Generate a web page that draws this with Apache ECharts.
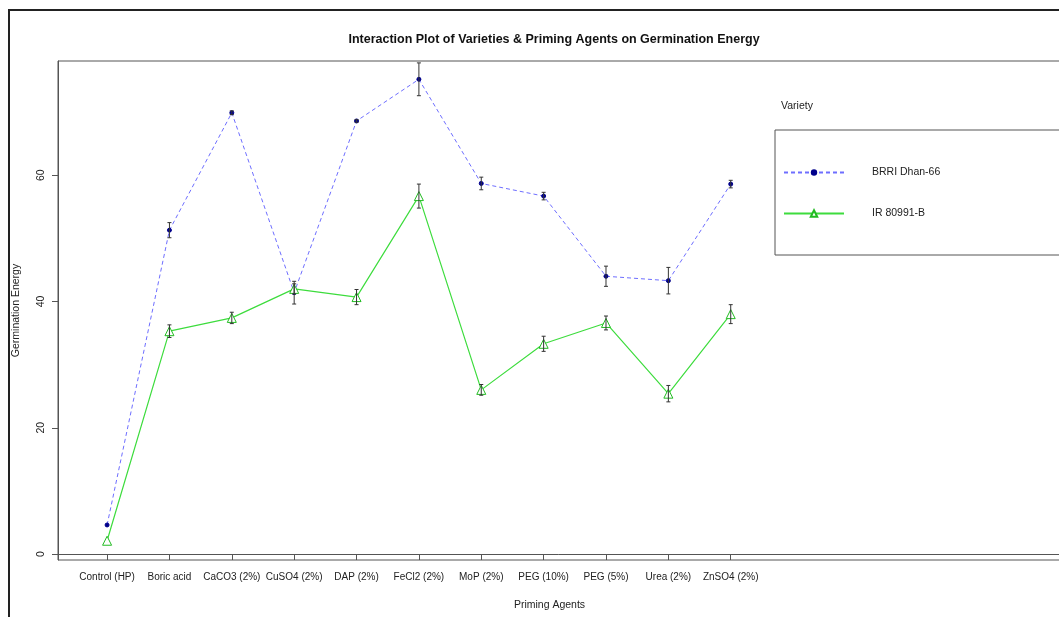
<!DOCTYPE html>
<html>
<head>
<meta charset="utf-8">
<script src="https://cdn.jsdelivr.net/npm/echarts@6/dist/echarts.min.js"></script>
<style>html,body{margin:0;padding:0;background:#fff;}#c{width:1059px;height:617px;}</style>
</head>
<body>
<div id="c"></div>
<script>
const categories = ['Control (HP)','Boric acid','CaCO3 (2%)','CuSO4 (2%)','DAP (2%)','FeCl2 (2%)','MoP (2%)','PEG (10%)','PEG (5%)','Urea (2%)','ZnSO4 (2%)'];
const brriMean = [4.6, 51.3, 69.9, 41.4, 68.6, 75.2, 58.7, 56.7, 44.0, 43.3, 58.6];
const brriErr  = [0.0, 1.2, 0.3, 1.8, 0.2, 2.6, 1.0, 0.6, 1.6, 2.1, 0.6];
const irMean   = [2.1, 35.3, 37.4, 42.0, 40.7, 56.7, 26.0, 33.3, 36.6, 25.4, 38.0];
const irErr    = [0.0, 1.0, 0.9, 0.8, 1.2, 1.9, 0.85, 1.2, 1.1, 1.3, 1.5];
const yTicks = [0, 20, 40, 60];
const seriesNames = ['BRRI Dhan-66', 'IR 80991-B'];

const FONT = "'Liberation Sans', Arial, sans-serif";
const xPos = categories.map((c, i) => i + 1);

function pts(arr) { return arr.map((v, i) => [xPos[i], v]); }
function errs(m, e) { return m.map((v, i) => [xPos[i], v - e[i], v + e[i]]); }

function renderErr(params, api) {
  const x = api.value(0);
  const lo = api.coord([x, api.value(1)]);
  const hi = api.coord([x, api.value(2)]);
  if (Math.abs(lo[1] - hi[1]) < 1) return null;
  const w = 2;
  const st = { stroke: '#333', lineWidth: 1 };
  return {
    type: 'group',
    children: [
      { type: 'line', shape: { x1: lo[0], y1: lo[1], x2: hi[0], y2: hi[1] }, style: st },
      { type: 'line', shape: { x1: lo[0] - w, y1: lo[1], x2: lo[0] + w, y2: lo[1] }, style: st },
      { type: 'line', shape: { x1: hi[0] - w, y1: hi[1], x2: hi[0] + w, y2: hi[1] }, style: st }
    ]
  };
}

const chart = echarts.init(document.getElementById('c'), null, { renderer: 'canvas' });
chart.setOption({
  animation: false,
  backgroundColor: '#fff',
  title: {
    text: 'Interaction Plot of Varieties & Priming Agents on Germination Energy',
    left: 549, top: 28, textAlign: 'center',
    textStyle: { fontFamily: FONT, fontSize: 12.5, fontWeight: 'bold', color: '#111' }
  },
  grid: { left: 58, top: 61, right: -6, bottom: 57, outerBoundsMode: 'none', containLabel: false,
    show: true, borderColor: '#555', borderWidth: 1, backgroundColor: 'transparent' },
  xAxis: {
    type: 'value', min: 0.213, max: 16.36,
    name: 'Priming Agents', nameLocation: 'middle', nameGap: 40,
    nameTextStyle: { fontFamily: FONT, fontSize: 10.5, color: '#222', padding: [0, 24, 0, 0] },
    axisLine: { show: true, lineStyle: { color: '#555' } },
    splitLine: { show: false },
    axisTick: { show: true, customValues: xPos, length: 6, inside: false, lineStyle: { color: '#555' } },
    axisLabel: { customValues: xPos, margin: 12, fontFamily: FONT, fontSize: 10, color: '#222',
      formatter: v => categories[Math.round(v) - 1] || '' }
  },
  yAxis: {
    type: 'value', min: -0.95, max: 78.1,
    name: 'Germination Energy', nameLocation: 'middle', nameGap: 36, nameRotate: 90,
    nameTextStyle: { fontFamily: FONT, fontSize: 10.5, color: '#222' },
    axisLine: { show: true, lineStyle: { color: '#555' } },
    splitLine: { show: false },
    axisTick: { show: true, customValues: yTicks, length: 6, lineStyle: { color: '#555' } },
    axisLabel: { customValues: yTicks, rotate: 90, margin: 11, fontFamily: FONT, fontSize: 10.5, color: '#222' }
  },
  legend: {
    data: seriesNames, orient: 'vertical', left: 778, top: 162,
    itemWidth: 60, itemHeight: 8, itemGap: 30,
    textStyle: { fontFamily: FONT, fontSize: 10.5, color: '#222', padding: [0, 0, 0, 23] }
  },
  graphic: [
    { type: 'rect', shape: { x: 9, y: 10, width: 1080, height: 640 }, style: { fill: 'none', stroke: '#222', lineWidth: 2 }, silent: true, z: 100 },
    { type: 'rect', shape: { x: 775, y: 130, width: 300, height: 125 }, style: { fill: 'none', stroke: '#555', lineWidth: 1 }, silent: true },
    { type: 'text', left: 781, top: 101, style: { text: 'Variety', fontFamily: FONT, fontSize: 10.5, fill: '#222' } }
  ],
  series: [
    {
      name: seriesNames[0], type: 'line', data: pts(brriMean),
      symbol: 'circle', symbolSize: 4,
      lineStyle: { color: '#6e6eff', width: 1, type: [4, 3] },
      itemStyle: { color: '#00008b', borderColor: '#00008b' }
    },
    {
      name: seriesNames[1], type: 'line', data: pts(irMean),
      symbol: 'triangle', symbolSize: 9,
      lineStyle: { color: '#3ddc3d', width: 1.2 },
      itemStyle: { color: '#fff', borderColor: '#22bb22', borderWidth: 1 }
    },
    { type: 'custom', renderItem: renderErr, data: errs(brriMean, brriErr), encode: { x: 0, y: [1, 2] }, z: 5, silent: true },
    { type: 'custom', renderItem: renderErr, data: errs(irMean, irErr), encode: { x: 0, y: [1, 2] }, z: 5, silent: true }
  ]
});
</script>
</body>
</html>
